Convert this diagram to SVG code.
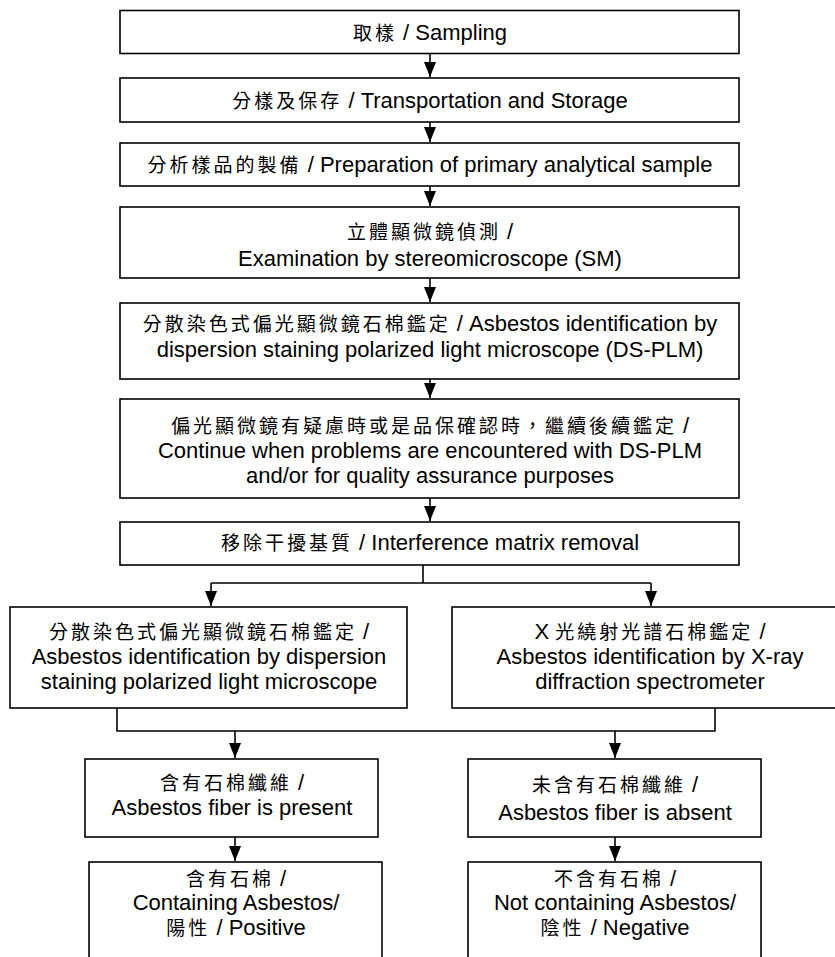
<svg xmlns="http://www.w3.org/2000/svg" width="835" height="957" viewBox="0 0 835 957">
<style>
.b{fill:#fff;stroke:#000;stroke-width:1.6}
.t{font-family:"Liberation Sans",Arial,"Noto Sans CJK TC",sans-serif;font-size:22px;fill:#000;text-anchor:middle}
.c{font-family:"Noto Sans CJK TC","Noto Sans CJK SC",sans-serif;font-size:19px;letter-spacing:3px}
.ln{fill:none;stroke:#000;stroke-width:1.6}
.ar{fill:none;stroke:#000;stroke-width:1.6;marker-end:url(#ah)}
</style>
<defs>
<marker id="ah" viewBox="0 0 15 12" refX="15" refY="6" markerWidth="15" markerHeight="12" markerUnits="userSpaceOnUse" orient="auto">
<path d="M0,0 L15,6 L0,12 z" fill="#000"/>
</marker>
</defs>
<rect width="835" height="957" fill="#fff"/>
<g id="connectors">
<line class="ar" x1="430" y1="54" x2="430" y2="77"/>
<line class="ar" x1="430" y1="122" x2="430" y2="142"/>
<line class="ar" x1="430" y1="186" x2="430" y2="206"/>
<line class="ar" x1="430" y1="278" x2="430" y2="302"/>
<line class="ar" x1="430" y1="379" x2="430" y2="398"/>
<line class="ar" x1="430" y1="498" x2="430" y2="521"/>
<polyline class="ln" points="423,565 423,583"/>
<line class="ln" x1="211" y1="583" x2="651" y2="583"/>
<line class="ar" x1="211" y1="583" x2="211" y2="606"/>
<line class="ar" x1="651" y1="583" x2="651" y2="606"/>
<polyline class="ln" points="117,708 117,731 715,731 715,708"/>
<line class="ar" x1="235" y1="731" x2="235" y2="758"/>
<line class="ar" x1="615" y1="731" x2="615" y2="758"/>
<line class="ar" x1="235" y1="837" x2="235" y2="861"/>
<line class="ar" x1="615" y1="837" x2="615" y2="861"/>
</g>
<g id="n1"><rect class="b" x="120" y="10.5" width="619" height="43"/>
<text class="t" x="430" y="40"><tspan class="c">取樣</tspan> / Sampling</text></g>
<g id="n2"><rect class="b" x="120" y="78" width="619" height="44"/>
<text class="t" x="430" y="108"><tspan class="c">分樣及保存</tspan>  /  Transportation and Storage</text></g>
<g id="n3"><rect class="b" x="120" y="143" width="619" height="43"/>
<text class="t" x="430" y="172"><tspan class="c">分析樣品的製備</tspan>  /  Preparation of primary analytical sample</text></g>
<g id="n4"><rect class="b" x="120" y="207" width="619" height="71"/>
<text class="t" x="430" y="239"><tspan class="c">立體顯微鏡偵測</tspan> /</text>
<text class="t" x="430" y="266">Examination by stereomicroscope (SM)</text></g>
<g id="n5"><rect class="b" x="120" y="303" width="619" height="76"/>
<text class="t" x="430" y="331"><tspan class="c">分散染色式偏光顯微鏡石棉鑑定</tspan> / Asbestos identification by</text>
<text class="t" x="430" y="357">dispersion staining polarized light microscope (DS-PLM)</text></g>
<g id="n6"><rect class="b" x="120" y="399" width="619" height="99"/>
<text class="t" x="430" y="433"><tspan class="c">偏光顯微鏡有疑慮時或是品保確認時，繼續後續鑑定</tspan> /</text>
<text class="t" x="430" y="458">Continue when problems are encountered with DS-PLM</text>
<text class="t" x="430" y="483">and/or for quality assurance purposes</text></g>
<g id="n7"><rect class="b" x="120" y="522" width="619" height="43"/>
<text class="t" x="430" y="550"><tspan class="c">移除干擾基質</tspan> / Interference matrix removal</text></g>
<g id="n8"><rect class="b" x="10" y="607" width="397" height="101"/>
<text class="t" x="209" y="639"><tspan class="c">分散染色式偏光顯微鏡石棉鑑定</tspan> /</text>
<text class="t" x="209" y="664">Asbestos identification by dispersion</text>
<text class="t" x="209" y="689">staining polarized light microscope</text></g>
<g id="n9"><rect class="b" x="452" y="607" width="400" height="101"/>
<text class="t" x="650" y="639">X <tspan class="c">光繞射光譜石棉鑑定</tspan> /</text>
<text class="t" x="650" y="664">Asbestos identification by X-ray</text>
<text class="t" x="650" y="689">diffraction spectrometer</text></g>
<g id="n10"><rect class="b" x="85" y="759" width="293" height="78"/>
<text class="t" x="232" y="790"><tspan class="c">含有石棉纖維</tspan> /</text>
<text class="t" x="232" y="815">Asbestos fiber is present</text></g>
<g id="n11"><rect class="b" x="468" y="759" width="293" height="78"/>
<text class="t" x="615" y="792"><tspan class="c">未含有石棉纖維</tspan> /</text>
<text class="t" x="615" y="820">Asbestos fiber is absent</text></g>
<g id="n12"><rect class="b" x="89" y="862" width="293" height="110"/>
<text class="t" x="236" y="886"><tspan class="c">含有石棉</tspan> /</text>
<text class="t" x="236" y="910">Containing Asbestos/</text>
<text class="t" x="236" y="935"><tspan class="c">陽性</tspan> / Positive</text></g>
<g id="n13"><rect class="b" x="468" y="862" width="293" height="110"/>
<text class="t" x="615" y="886"><tspan class="c">不含有石棉</tspan> /</text>
<text class="t" x="615" y="910">Not containing Asbestos/</text>
<text class="t" x="615" y="935"><tspan class="c">陰性</tspan> / Negative</text></g>
</svg>
